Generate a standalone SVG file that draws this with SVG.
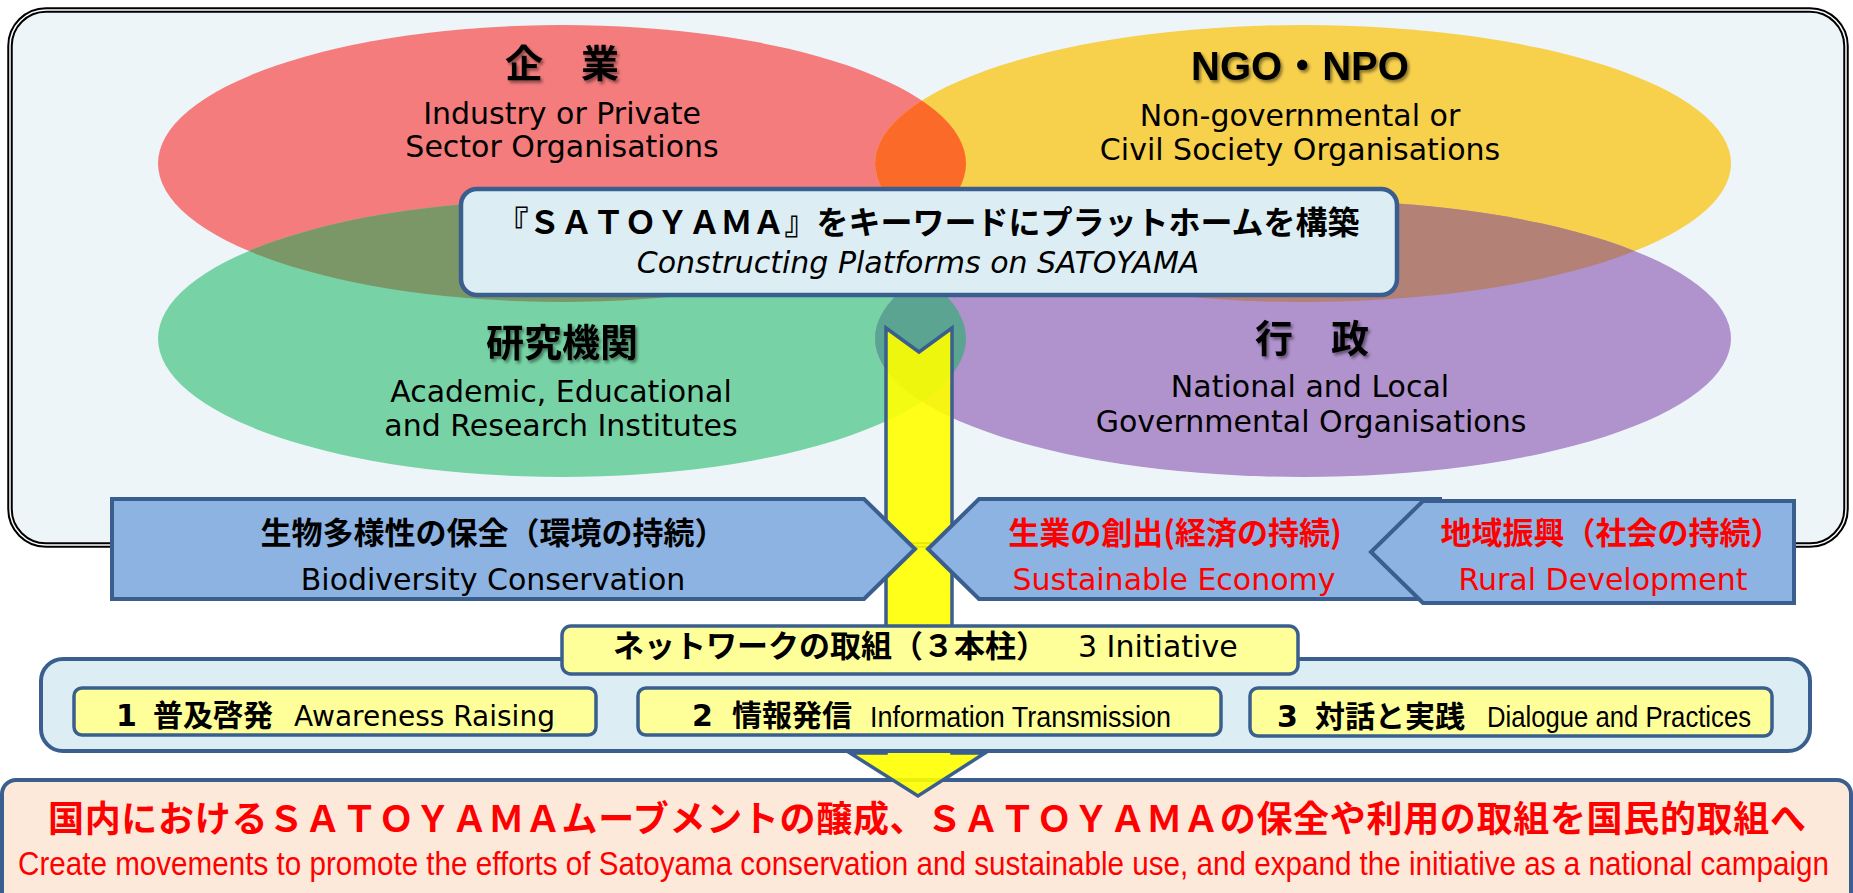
<svg xmlns="http://www.w3.org/2000/svg" width="1853" height="893" viewBox="0 0 1853 893">
<defs>
<style>
.en{font-family:"DejaVu Sans",Verdana,sans-serif;font-size:30px;fill:#000}
.jp{font-family:"Noto Sans CJK JP",sans-serif;font-weight:700;fill:#000}
.cond{font-family:"Liberation Sans",Arial,sans-serif;fill:#000}
.red{fill:#FF0000}
.mid{text-anchor:middle}
.edge{stroke:#3A5F8F;stroke-linejoin:miter}
.pillar{fill:#8DB3E2;stroke:#3A5F8F;stroke-width:4}
.item{fill:#FFFF99;stroke:#3A5F8F;stroke-width:3.5}
.head{font-family:"Noto Sans CJK JP",sans-serif;font-weight:700;font-size:38px;fill:#000;text-anchor:middle}
</style>
<filter id="sh" x="-10%" y="-20%" width="130%" height="160%">
<feDropShadow dx="2" dy="2.5" stdDeviation="1.5" flood-color="#000" flood-opacity="0.45"/>
</filter>
<clipPath id="cRed"><ellipse cx="562" cy="163.5" rx="404" ry="138.5"/></clipPath>
<clipPath id="cGreen"><ellipse cx="562" cy="338.5" rx="404" ry="138.5"/></clipPath>
<clipPath id="cYellow"><ellipse cx="1303" cy="163.5" rx="428" ry="138.5"/></clipPath>
<clipPath id="cPurple"><ellipse cx="1303" cy="338.5" rx="428" ry="138.5"/></clipPath>
</defs>

<g id="container">
<rect x="10" y="10" width="1836" height="535" rx="36" fill="#EEF5F9" stroke="#000" stroke-width="5.5"/>
<rect x="10" y="10" width="1836" height="535" rx="36" fill="none" stroke="#fff" stroke-width="1.5"/>
</g>

<g id="ellipses">
<ellipse cx="562" cy="163.5" rx="404" ry="138.5" fill="#F47C7C"/>
<ellipse cx="1303" cy="163.5" rx="428" ry="138.5" fill="#F7D04C"/>
<ellipse cx="562" cy="338.5" rx="404" ry="138.5" fill="#77D3A5"/>
<ellipse cx="1303" cy="338.5" rx="428" ry="138.5" fill="#B092CD"/>
<ellipse cx="1303" cy="163.5" rx="428" ry="138.5" fill="#FC6A2A" clip-path="url(#cRed)"/>
<ellipse cx="562" cy="338.5" rx="404" ry="138.5" fill="#7B9767" clip-path="url(#cRed)"/>
<ellipse cx="1303" cy="338.5" rx="428" ry="138.5" fill="#B48176" clip-path="url(#cYellow)"/>
<ellipse cx="1303" cy="338.5" rx="428" ry="138.5" fill="#5AA491" clip-path="url(#cGreen)"/>
</g>

<g id="node-industry">
<text class="head" x="562" y="77" filter="url(#sh)">企　業</text>
<text class="en mid" x="562" y="124">Industry or Private</text>
<text class="en mid" x="562" y="157">Sector Organisations</text>
</g>
<g id="node-ngo">
<text x="1300" y="80" text-anchor="middle" filter="url(#sh)" style="font-family:'Liberation Sans','Noto Sans CJK JP',sans-serif;font-weight:700;font-size:40px">NGO・NPO</text>
<text class="en mid" x="1300" y="126">Non-governmental or</text>
<text class="en mid" x="1300" y="160">Civil Society Organisations</text>
</g>
<g id="node-academic">
<text class="head" x="562" y="356" filter="url(#sh)">研究機関</text>
<text class="en mid" x="561" y="402">Academic, Educational</text>
<text class="en mid" x="561" y="436">and Research Institutes</text>
</g>
<g id="node-government">
<text class="head" x="1312" y="352" filter="url(#sh)">行　政</text>
<text class="en mid" x="1310" y="397">National and Local</text>
<text class="en mid" x="1311" y="432">Governmental Organisations</text>
</g>

<g id="node-platform">
<rect x="461" y="189" width="936" height="106" rx="16" fill="#DCEEF4" class="edge" stroke-width="4.5"/>
<text class="jp mid" x="928" y="234" style="font-size:32px">『ＳＡＴＯＹＡＭＡ』をキーワードにプラットホームを構築</text>
<text class="en mid" x="918" y="273" style="font-style:italic">Constructing Platforms on SATOYAMA</text>
</g>

<g id="node-goal">
<rect x="2" y="780" width="1849" height="140" rx="14" fill="#FDE9D9" class="edge" stroke-width="4"/>
<text class="jp red" x="48" y="832" style="font-size:36px" textLength="1758" lengthAdjust="spacing">国内におけるＳＡＴＯＹＡＭＡムーブメントの醸成、ＳＡＴＯＹＡＭＡの保全や利用の取組を国民的取組へ</text>
<text class="cond red" x="18" y="875" style="font-size:32.5px" textLength="1811" lengthAdjust="spacingAndGlyphs">Create movements to promote the efforts of Satoyama conservation and sustainable use, and expand the initiative as a national campaign</text>
</g>

<g id="connectors">
<path d="M886,328 L919,352 L952,328 L952,753 L985,753 L918,796 L850,753 L886,753 Z" fill="#FFFF00" fill-opacity="0.9" stroke="#3A5F8F" stroke-width="3.5" stroke-linejoin="miter"/>
</g>

<g id="node-biodiversity">
<polygon class="pillar" points="112,499 864,499 915,549 864,599 112,599"/>
<text class="jp mid" x="493" y="544" style="font-size:31px">生物多様性の保全（環境の持続）</text>
<text class="en mid" x="493" y="590">Biodiversity Conservation</text>
</g>
<g id="node-economy">
<polygon class="pillar" points="928,549 979,499 1440,499 1440,599 979,599"/>
<text class="jp mid red" x="1175" y="544" style="font-size:31px">生業の創出(経済の持続)</text>
<text class="en mid red" x="1174" y="590">Sustainable Economy</text>
</g>
<g id="node-rural">
<polygon class="pillar" points="1423,501 1794,501 1794,603 1423,603 1371,552"/>
<text class="jp mid red" x="1611" y="544" style="font-size:31px">地域振興（社会の持続）</text>
<text class="en mid red" x="1603" y="590">Rural Development</text>
</g>

<g id="node-network">
<rect x="41" y="659" width="1769" height="92" rx="22" fill="#DCEEF4" class="edge" stroke-width="4"/>
<rect x="562" y="626" width="736" height="48" rx="9" fill="#FFFF99" class="edge" stroke-width="3.5"/>
<text y="657"><tspan class="jp" x="613" style="font-size:31px">ネットワークの取組（３本柱）</tspan><tspan class="en" x="1078">3 Initiative</tspan></text>
</g>

<g id="node-awareness">
<rect class="item" x="74" y="688" width="522" height="47" rx="8"/>
<text y="726"><tspan class="en" x="116" style="font-weight:700">1</tspan><tspan class="jp" x="153" style="font-size:30px">普及啓発</tspan><tspan class="en" x="294" style="font-size:28px">Awareness Raising</tspan></text>
</g>
<g id="node-information">
<rect class="item" x="638" y="688" width="583" height="47" rx="8"/>
<text y="726"><tspan class="en" x="692" style="font-weight:700">2</tspan><tspan class="jp" x="732" style="font-size:30px">情報発信</tspan></text>
<text class="cond" x="870" y="727" style="font-size:30px" textLength="301" lengthAdjust="spacingAndGlyphs">Information Transmission</text>
</g>
<g id="node-dialogue">
<rect class="item" x="1250" y="688" width="522" height="48" rx="8"/>
<text y="727"><tspan class="en" x="1277" style="font-weight:700">3</tspan><tspan class="jp" x="1315" style="font-size:30px">対話と実践</tspan></text>
<text class="cond" x="1487" y="727" style="font-size:30px" textLength="264" lengthAdjust="spacingAndGlyphs">Dialogue and Practices</text>
</g>
</svg>
